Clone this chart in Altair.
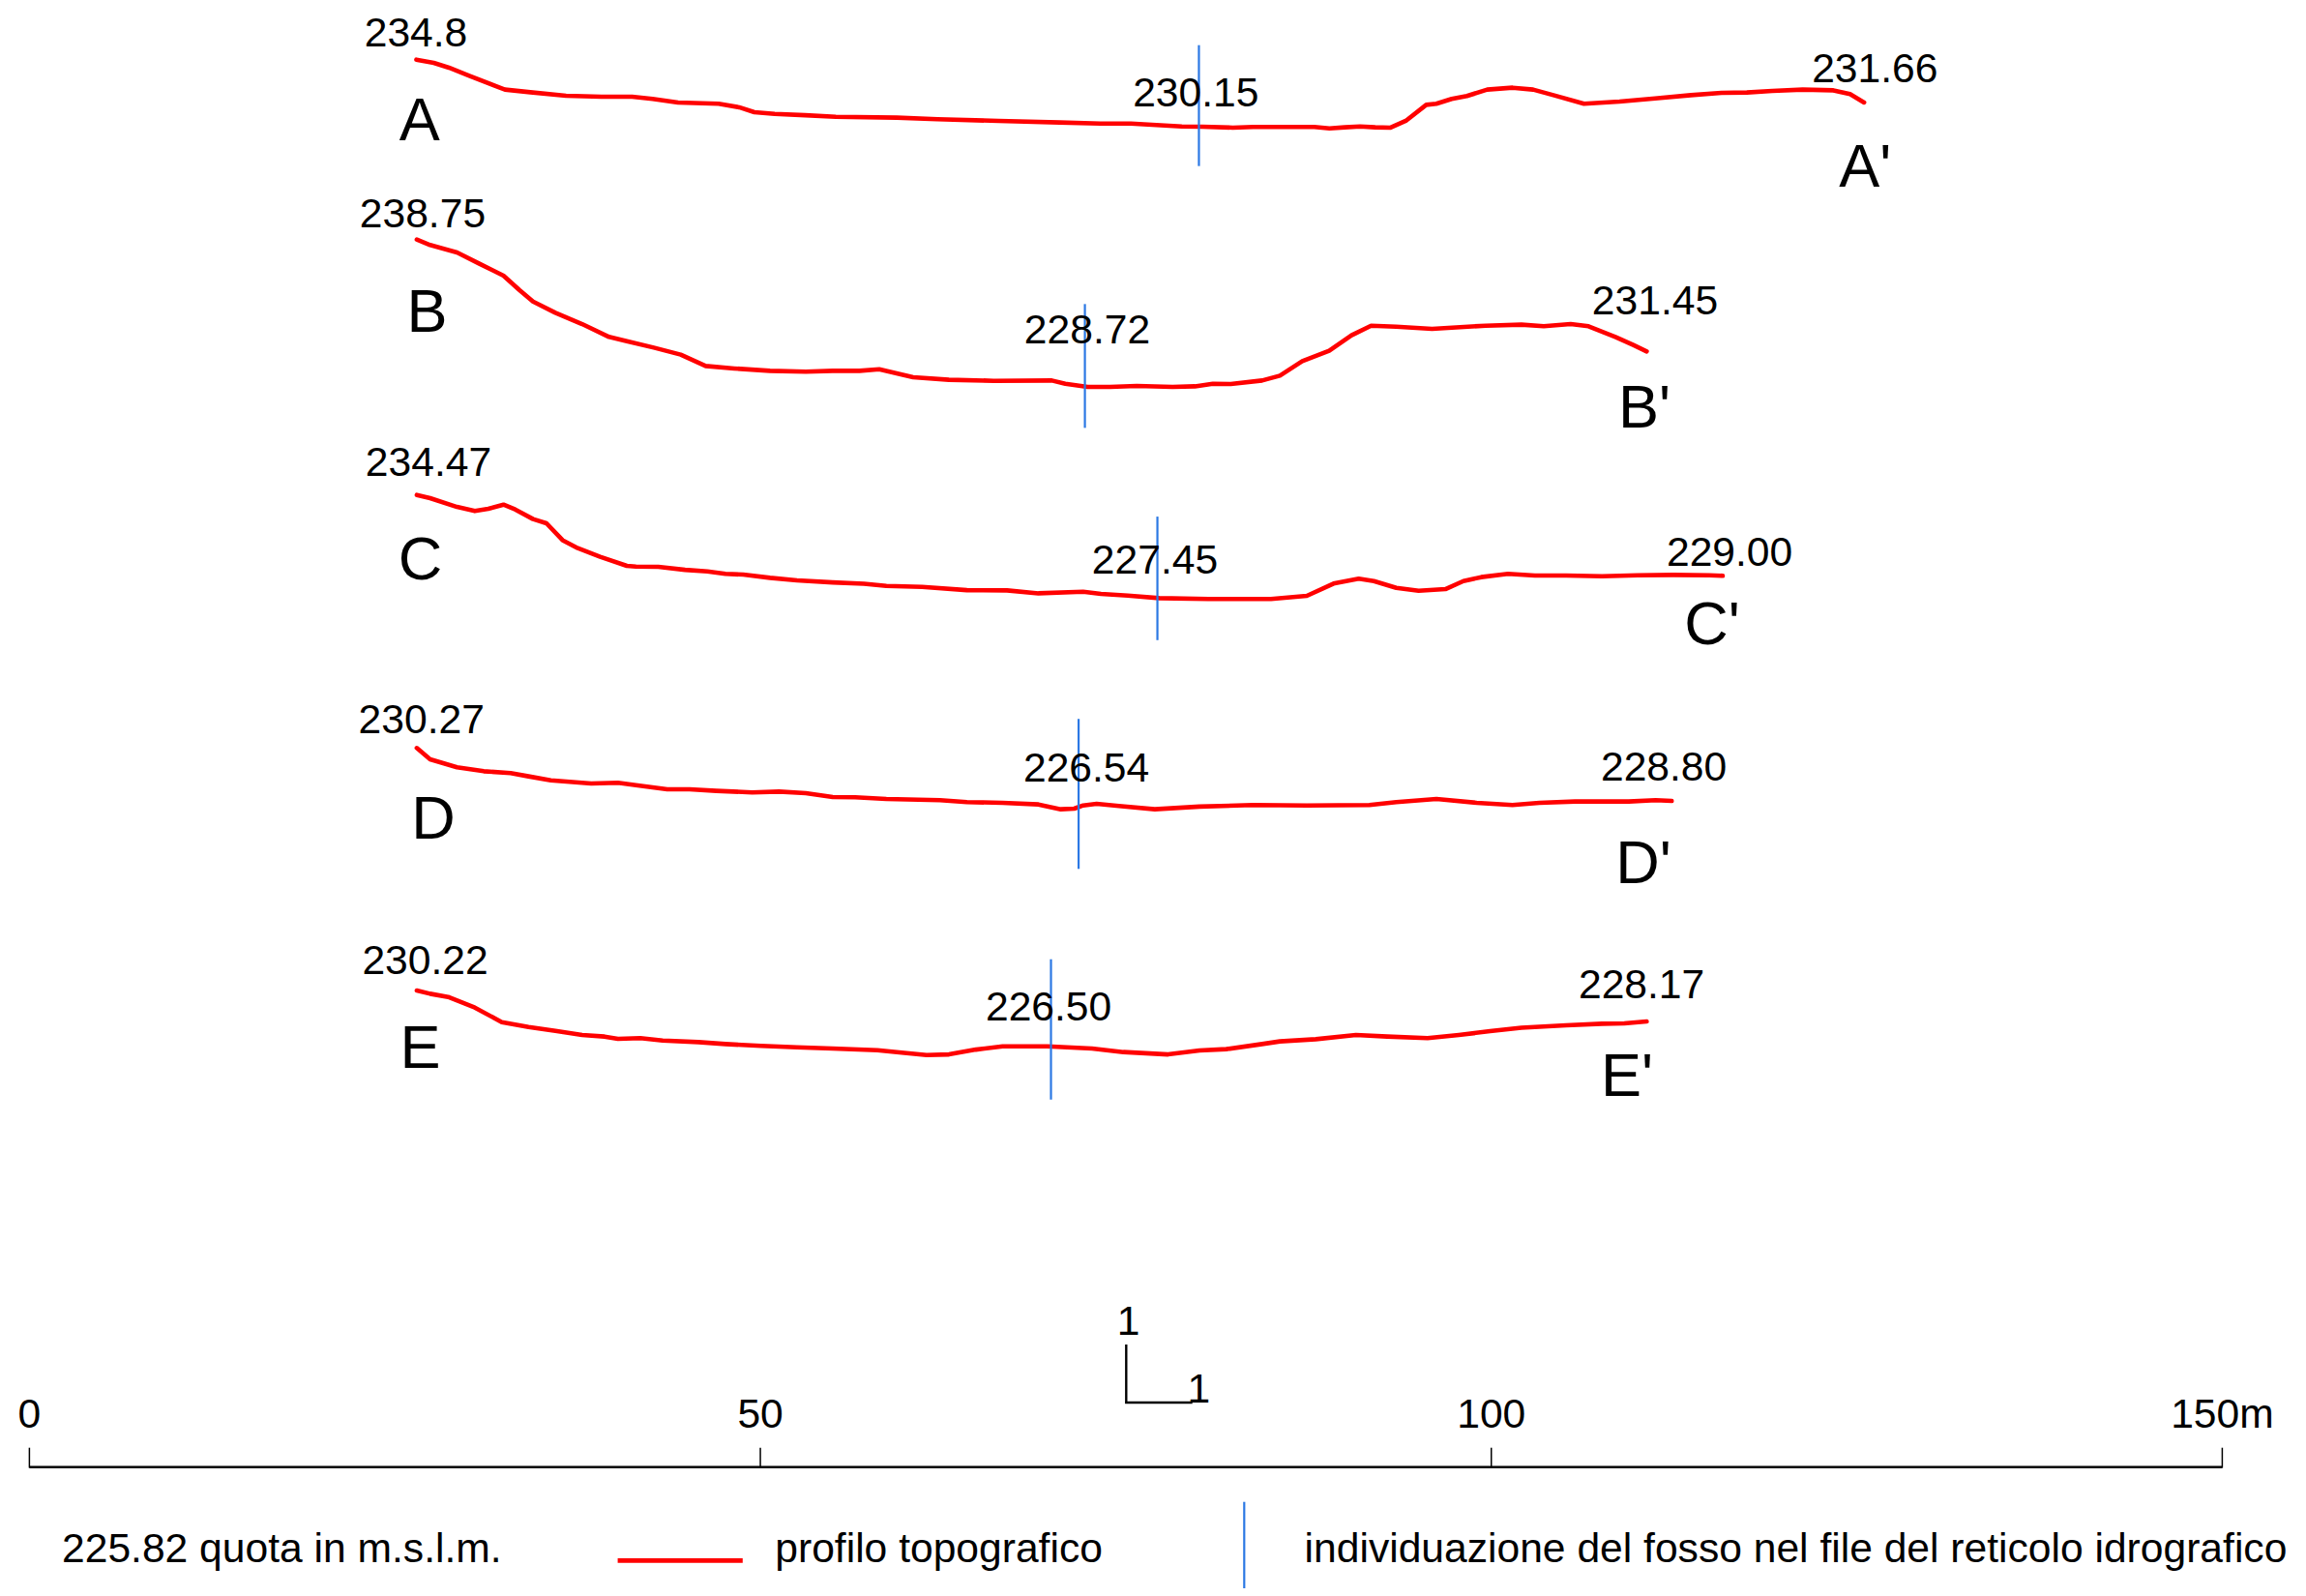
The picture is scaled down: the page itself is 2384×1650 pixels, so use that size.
import altair as alt
import pandas as pd

# ---------------- data: topographic profiles (distance m, elevation m a.s.l.) ----------------
dist_A = [26.47, 27.66, 28.70, 30.09, 32.18, 32.53, 34.27, 36.71, 39.14, 41.23, 42.63, 44.37, 47.15, 48.55,
          49.59, 50.98, 53.07, 55.16, 59.34, 62.12, 66.30, 70.48, 73.26, 75.35, 78.83, 80.23, 82.32, 83.71,
          85.80, 87.89, 88.93, 89.98, 91.02, 92.06, 93.11, 94.15, 95.55, 96.24, 97.29, 98.33, 99.72, 101.46,
          102.86, 104.25, 106.34, 108.77, 111.21, 113.65, 115.74, 117.48, 119.22, 121.30, 123.40, 124.54, 125.50]
elev_A = [234.80, 234.58, 234.25, 233.70, 232.88, 232.75, 232.57, 232.33, 232.26, 232.26, 232.11, 231.87, 231.78,
          231.54, 231.20, 231.09, 231.00, 230.89, 230.83, 230.72, 230.61, 230.50, 230.43, 230.43, 230.23, 230.21,
          230.15, 230.19, 230.19, 230.19, 230.10, 230.17, 230.23, 230.17, 230.15, 230.61, 231.71, 231.78, 232.11,
          232.31, 232.75, 232.88, 232.75, 232.37, 231.78, 231.93, 232.15, 232.37, 232.53, 232.55, 232.66, 232.75,
          232.70, 232.44, 231.87]

dist_B = [26.50, 27.41, 29.25, 30.78, 32.43, 33.53, 34.45, 35.98, 37.81, 39.65, 40.87, 42.71, 44.55, 46.26,
          48.22, 50.66, 53.11, 54.95, 56.78, 58.13, 60.45, 62.90, 65.96, 69.94, 70.86, 72.39, 73.92, 75.75,
          78.20, 79.73, 80.95, 82.18, 84.32, 85.54, 87.07, 88.91, 90.44, 91.78, 93.50, 95.95, 99.61, 102.06,
          103.59, 105.43, 106.65, 108.49, 109.71, 110.63]
elev_B = [238.75, 238.38, 237.87, 237.10, 236.28, 235.29, 234.51, 233.74, 232.97, 232.09, 231.80, 231.36, 230.88,
          230.10, 229.93, 229.77, 229.71, 229.77, 229.77, 229.88, 229.33, 229.16, 229.09, 229.11, 228.89, 228.67,
          228.67, 228.74, 228.67, 228.71, 228.89, 228.87, 229.11, 229.44, 230.43, 231.14, 232.20, 232.86, 232.79,
          232.64, 232.86, 232.93, 232.82, 232.97, 232.82, 232.09, 231.54, 231.10]

dist_C = [26.50, 27.41, 29.25, 30.47, 31.39, 32.43, 33.23, 34.45, 35.37, 36.47, 37.51, 39.04, 40.87, 41.49,
          43.02, 44.85, 46.38, 47.61, 48.83, 50.66, 52.50, 54.95, 57.09, 58.62, 61.07, 64.13, 66.88, 69.02,
          72.08, 73.30, 75.14, 77.28, 80.65, 84.93, 87.38, 89.21, 90.93, 91.97, 93.50, 95.03, 96.86, 98.09,
          99.31, 101.14, 102.98, 105.12, 107.57, 110.02, 112.46, 114.91, 115.83]
elev_C = [234.47, 234.25, 233.65, 233.37, 233.52, 233.81, 233.48, 232.82, 232.53, 231.38, 230.83, 230.24, 229.62,
          229.57, 229.55, 229.35, 229.24, 229.07, 229.02, 228.80, 228.63, 228.49, 228.40, 228.25, 228.18, 227.96,
          227.94, 227.74, 227.85, 227.70, 227.59, 227.41, 227.35, 227.35, 227.57, 228.41, 228.74, 228.58, 228.12,
          227.92, 228.03, 228.58, 228.85, 229.07, 228.96, 228.96, 228.91, 228.98, 229.00, 228.98, 228.94]

dist_D = [26.50, 27.41, 29.25, 31.08, 32.92, 34.14, 35.67, 38.43, 40.26, 41.49, 43.63, 45.16, 46.99, 49.44,
          51.28, 53.11, 54.95, 56.48, 58.62, 62.29, 64.13, 66.57, 69.02, 70.55, 71.47, 72.08, 73.00, 74.53,
          76.98, 80.04, 83.70, 87.38, 91.66, 93.50, 96.25, 99.00, 101.45, 103.29, 105.73, 109.40, 111.24, 112.34]
elev_D = [230.27, 229.50, 228.95, 228.68, 228.55, 228.33, 228.06, 227.84, 227.89, 227.73, 227.45, 227.45, 227.34,
          227.23, 227.29, 227.18, 226.92, 226.90, 226.78, 226.70, 226.57, 226.52, 226.41, 226.08, 226.12, 226.34,
          226.45, 226.30, 226.08, 226.26, 226.37, 226.34, 226.37, 226.57, 226.78, 226.52, 226.37, 226.52, 226.61,
          226.61, 226.70, 226.65]

dist_E = [26.50, 27.41, 28.64, 30.47, 32.31, 34.14, 35.98, 37.81, 39.34, 40.26, 41.79, 43.32, 45.77, 47.61,
          50.05, 52.50, 54.95, 58.01, 59.84, 61.37, 62.90, 64.74, 66.57, 69.63, 72.69, 74.83, 77.89, 80.04,
          81.87, 84.32, 85.54, 87.99, 90.74, 92.89, 95.64, 97.78, 99.92, 102.06, 105.12, 107.57, 109.10, 110.63]
elev_E = [230.22, 230.00, 229.78, 229.05, 228.06, 227.73, 227.46, 227.18, 227.07, 226.91, 226.96, 226.80, 226.69,
          226.56, 226.43, 226.34, 226.25, 226.14, 225.96, 225.81, 225.85, 226.18, 226.40, 226.40, 226.25, 226.01,
          225.85, 226.12, 226.21, 226.56, 226.74, 226.89, 227.18, 227.07, 226.96, 227.18, 227.44, 227.68, 227.84,
          227.95, 227.97, 228.10]

profile_names = ["A", "B", "C", "D", "E"]

# ditch (fosso) position on each profile and the extent of its marker, metres
ditch_dist = [80.00, 72.20, 77.16, 71.77, 69.88]
ditch_top = [235.79, 234.34, 232.99, 232.26, 232.36]
ditch_bottom = [227.52, 225.87, 224.54, 222.00, 222.76]

# elevation labels
elab_profile = ["A", "A", "A", "B", "B", "B", "C", "C", "C", "D", "D", "D", "E", "E", "E"]
elab_text = ["234.8", "230.15", "231.66", "238.75", "228.72", "231.45", "234.47", "227.45", "229.00",
             "230.27", "226.54", "228.80", "230.22", "226.50", "228.17"]
elab_dist = [26.44, 79.79, 126.24, 26.90, 72.36, 111.20, 27.30, 76.99, 116.30,
             26.82, 72.30, 111.80, 27.07, 69.72, 110.28]
elab_elev = [235.69, 231.60, 233.26, 239.59, 231.65, 233.63, 235.75, 229.11, 229.62,
             231.26, 227.98, 228.06, 231.36, 228.17, 229.71]

# section end letters
letter_profile = ["A", "A", "B", "B", "C", "C", "D", "D", "E", "E"]
letter_text = ["A", "A'", "B", "B'", "C", "C'", "D", "D'", "E", "E'"]
letter_dist = [26.69, 125.58, 27.20, 110.48, 26.74, 115.10, 27.63, 110.41, 26.74, 109.28]
letter_elev = [229.29, 226.11, 232.44, 225.91, 228.69, 224.26, 224.09, 221.03, 224.93, 223.03]

# scale bar
scale_ticks = [0, 50, 100, 150]
scale_labels = ["0", "50", "100", "150m"]

legend_texts = ["225.82 quota in m.s.l.m.", "profilo topografico",
                "individuazione del fosso nel file del reticolo idrografico"]

# ---------------- layout ----------------
# vertical shift of each profile on the sheet (drawing units = metres, 1:1)
offset = {"A": 130.23, "B": 146.49, "C": 159.68, "D": 172.79, "E": 189.33}

W, H = 2368, 1634
xs = alt.Scale(domain=[-1.482, 155.20], nice=False, zero=False)
ys = alt.Scale(domain=[0, 108.12], nice=False, zero=False)
FONT = "Liberation Sans"
FS = 42.6
RED = "#ff0000"
BLUE = "#2b78e4"

dists = {"A": dist_A, "B": dist_B, "C": dist_C, "D": dist_D, "E": dist_E}
elevs = {"A": elev_A, "B": elev_B, "C": elev_C, "D": elev_D, "E": elev_E}
rows = []
for p in profile_names:
    for i, (d, e) in enumerate(zip(dists[p], elevs[p])):
        rows.append({"profile": p, "i": i, "dist": d, "elev": e, "yd": e - offset[p]})
prof_df = pd.DataFrame(rows)

ditch_df = pd.DataFrame({"profile": profile_names, "dist": ditch_dist,
                         "top": ditch_top, "bottom": ditch_bottom})
ditch_df["yt"] = ditch_df["top"] - ditch_df["profile"].map(offset)
ditch_df["yb"] = ditch_df["bottom"] - ditch_df["profile"].map(offset)

elab_df = pd.DataFrame({"profile": elab_profile, "t": elab_text, "dist": elab_dist, "elev": elab_elev})
elab_df["yd"] = elab_df["elev"] - elab_df["profile"].map(offset)
let_df = pd.DataFrame({"profile": letter_profile, "t": letter_text, "dist": letter_dist, "elev": letter_elev})
let_df["yd"] = let_df["elev"] - let_df["profile"].map(offset)

X = alt.X("dist:Q", scale=xs, axis=None)

lines = alt.Chart(prof_df).mark_line(color=RED, strokeWidth=4.6, strokeCap="round", strokeJoin="round").encode(
    x=X, y=alt.Y("yd:Q", scale=ys, axis=None), detail="profile:N", order="i:Q")

ditch = alt.Chart(ditch_df).mark_rule(color=BLUE, strokeWidth=2.2).encode(
    x=X, y=alt.Y("yt:Q", scale=ys, axis=None), y2="yb:Q")

elabs = alt.Chart(elab_df).mark_text(font=FONT, fontSize=FS, align="center", baseline="alphabetic",
                                     color="black").encode(
    x=X, y=alt.Y("yd:Q", scale=ys, axis=None), text="t:N")

letters = alt.Chart(let_df).mark_text(font=FONT, fontSize=63, align="center", baseline="alphabetic",
                                      color="black").encode(
    x=X, y=alt.Y("yd:Q", scale=ys, axis=None), text="t:N")

# scale bar
bar_df = pd.DataFrame({"start": [scale_ticks[0]], "end": [scale_ticks[-1]]})
bar = alt.Chart(bar_df).mark_rule(color="black", strokeWidth=2.6).encode(
    x=alt.X("start:Q", scale=xs, axis=None), x2="end:Q", y=alt.value(1508.7))
tick_df = pd.DataFrame({"dist": scale_ticks, "t": scale_labels})
ticks = alt.Chart(tick_df).mark_rule(color="black", strokeWidth=1.5).encode(
    x=X, y=alt.value(1488.7), y2=alt.value(1509.5))
tick_labels = alt.Chart(tick_df).mark_text(font=FONT, fontSize=FS, align="center", baseline="alphabetic",
                                           color="black").encode(
    x=X, y=alt.value(1468), text="t:N")

# 1:1 ratio symbol
one = pd.DataFrame({"t": ["1"]})
sym_v = alt.Chart(one).mark_rule(color="black", strokeWidth=2.4).encode(
    x=alt.value(1156.3), y=alt.value(1382), y2=alt.value(1443))
sym_h = alt.Chart(one).mark_rule(color="black", strokeWidth=2.4).encode(
    x=alt.value(1155.2), x2=alt.value(1224.7), y=alt.value(1442))
sym_t1 = alt.Chart(one).mark_text(font=FONT, fontSize=FS, align="center", baseline="alphabetic",
                                  color="black").encode(x=alt.value(1158.6), y=alt.value(1372), text="t:N")
sym_t2 = alt.Chart(one).mark_text(font=FONT, fontSize=FS, align="center", baseline="alphabetic",
                                  color="black").encode(x=alt.value(1231.4), y=alt.value(1441.5), text="t:N")

# legend
leg_df = pd.DataFrame({"t": legend_texts, "x": [56, 793.3, 1340.6]})
leg_text = alt.Chart(leg_df).mark_text(font=FONT, fontSize=FS, align="left", baseline="alphabetic",
                                       color="black").encode(
    x=alt.X("x:Q", scale=alt.Scale(domain=[0, W], range=[0, W], nice=False, zero=False), axis=None),
    y=alt.value(1607), text="t:N")
leg_red = alt.Chart(one).mark_rule(color=RED, strokeWidth=4.8).encode(
    x=alt.value(630.6), x2=alt.value(759.8), y=alt.value(1605.3))
leg_blue = alt.Chart(one).mark_rule(color=BLUE, strokeWidth=2.2).encode(
    x=alt.value(1278.3), y=alt.value(1544.7), y2=alt.value(1640.3))

chart = alt.layer(
    lines, ditch, elabs, letters, bar, ticks, tick_labels,
    sym_v, sym_h, sym_t1, sym_t2, leg_red, leg_blue, leg_text
).resolve_scale(x="independent").properties(
    width=W, height=H, padding=0, autosize="none"
).configure_view(stroke=None)

chart.save("out.html", embed_options={"renderer": "svg", "actions": False})
